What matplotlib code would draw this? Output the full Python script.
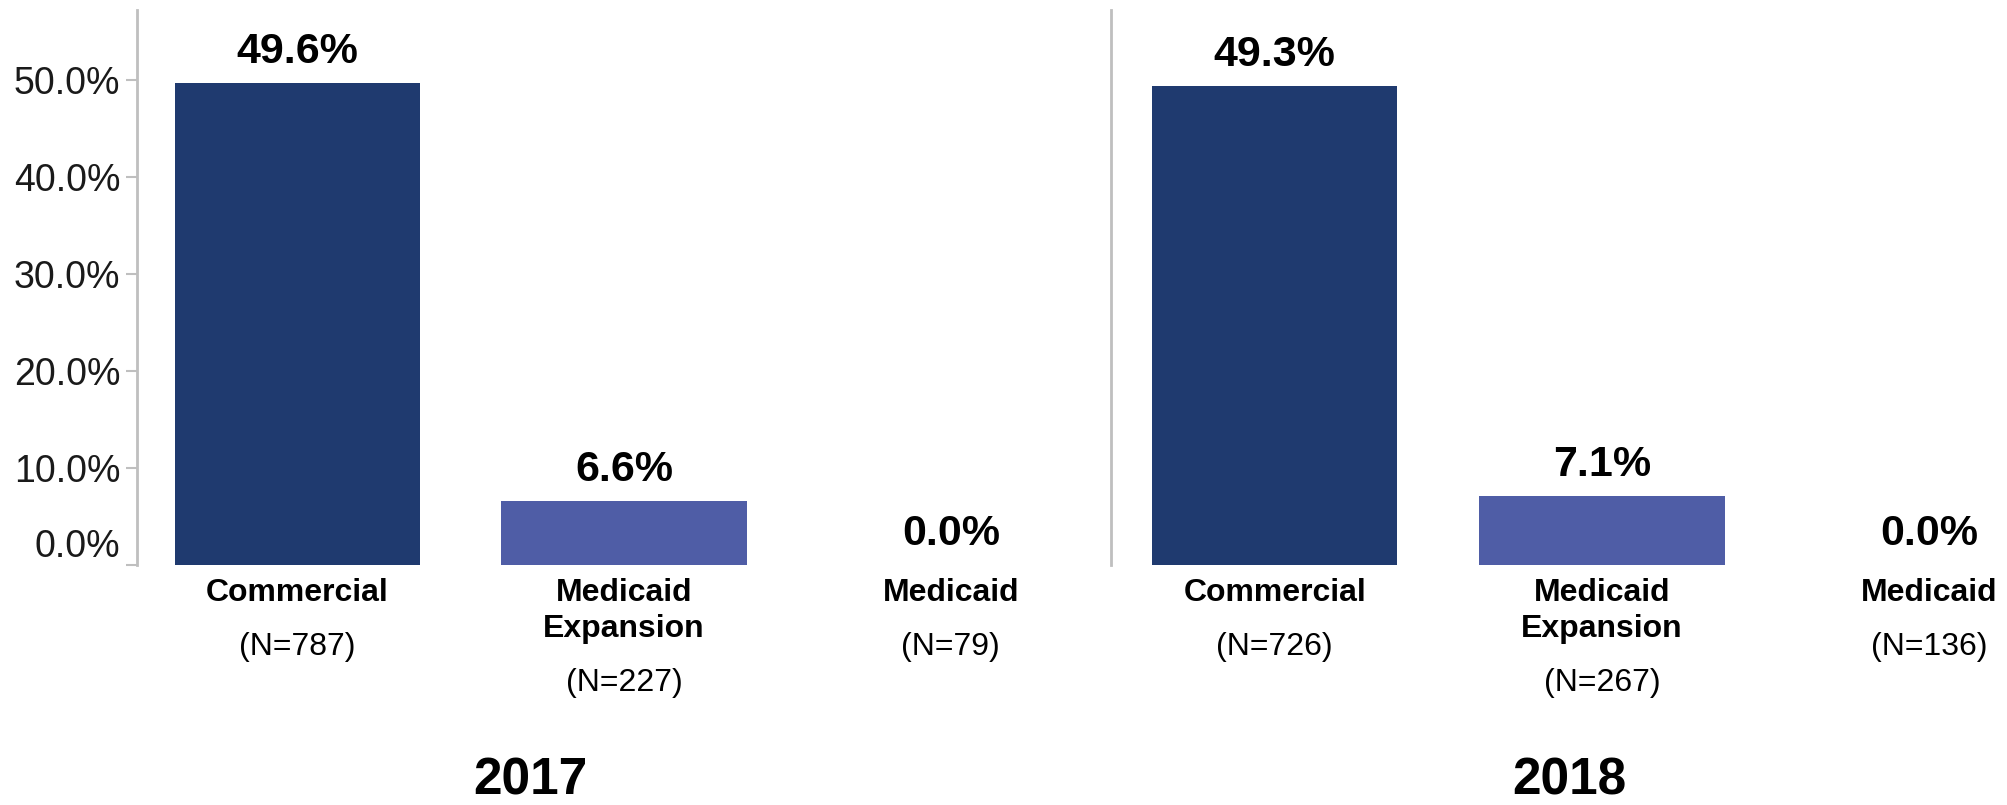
import numpy as np
import matplotlib
matplotlib.use('Agg')
import matplotlib.pyplot as plt
import matplotlib.transforms as mtransforms

plt.rcParams['font.family'] = ['Liberation Sans', 'DejaVu Sans']

# data
years = ['2017', '2018']
categories = ['Commercial', 'Medicaid\nExpansion', 'Medicaid']
pct_2017 = [49.6, 6.6, 0.0]
pct_2018 = [49.3, 7.1, 0.0]
n_2017 = [787, 227, 79]
n_2018 = [726, 267, 136]
yticks = [0, 10, 20, 30, 40, 50]

bar_colors = ['#1F3A6F', '#4F5DA6', '#8A95C8']
spine_col = '#BFBFBF'

fig = plt.figure(figsize=(20.08, 8.05), dpi=100)
ax1 = fig.add_axes([137 / 2008, 0.298, (1111 - 137) / 2008, 0.690])
ax2 = fig.add_axes([1111 / 2008, 0.298, (2008 - 1111) / 2008, 0.690], sharey=ax1)

panels = [(ax1, pct_2017, n_2017, (-0.49, 2.49)),
          (ax2, pct_2018, n_2018, (-0.50, 2.24))]

for ax, vals, ns, xl in panels:
    x = np.arange(len(categories))
    ax.bar(x, vals, width=0.75, color=bar_colors, edgecolor='none')
    ax.set_xlim(*xl)
    ax.set_ylim(0, 57.2)
    for s in ['top', 'right', 'bottom']:
        ax.spines[s].set_visible(False)
    ax.spines['left'].set_color(spine_col)
    ax.spines['left'].set_linewidth(2)
    ax.set_xticks([])

    # value labels
    for xi, v in zip(x, vals):
        ax.annotate(f'{v:.1f}%', (xi, v), xytext=(0, 31), textcoords='offset pixels',
                    ha='center', va='center', fontsize=31, fontweight='bold', color='black')

    # category + N labels under the bars
    for xi, cat, n in zip(x, categories, ns):
        lines = cat.split('\n')
        for i, line in enumerate(lines):
            ax.annotate(line, (xi, 0), xytext=(0, -(28 + 36 * i)), textcoords='offset pixels',
                        ha='center', va='center', fontsize=23, fontweight='bold', color='black',
                        annotation_clip=False)
        ax.annotate(f'(N={n})', (xi, 0), xytext=(0, -(28 + 36 * (len(lines) - 1) + 54)),
                    textcoords='offset pixels', ha='center', va='center', fontsize=23,
                    color='black', annotation_clip=False)

# y axis
ax1.set_yticks(yticks)
ax1.set_yticklabels([f'{t:.1f}%' for t in yticks])
ax1.tick_params(axis='y', length=8, width=1.5, color=spine_col, pad=4,
                labelsize=27, labelcolor='#1A1A1A')
# the 0.0% label sits a bit higher than its tick
lab0 = ax1.get_yticklabels()[0]
lab0.set_transform(lab0.get_transform() +
                   mtransforms.ScaledTranslation(0, 22 / 100, fig.dpi_scale_trans))
ax2.tick_params(axis='y', left=False, labelleft=False)

# year labels
fig.text(530 / 2008, 1 - 781 / 805, years[0], ha='center', va='center',
         fontsize=37, fontweight='bold')
fig.text(1569 / 2008, 1 - 781 / 805, years[1], ha='center', va='center',
         fontsize=37, fontweight='bold')

fig.savefig('out.png', dpi=100, facecolor='white')
